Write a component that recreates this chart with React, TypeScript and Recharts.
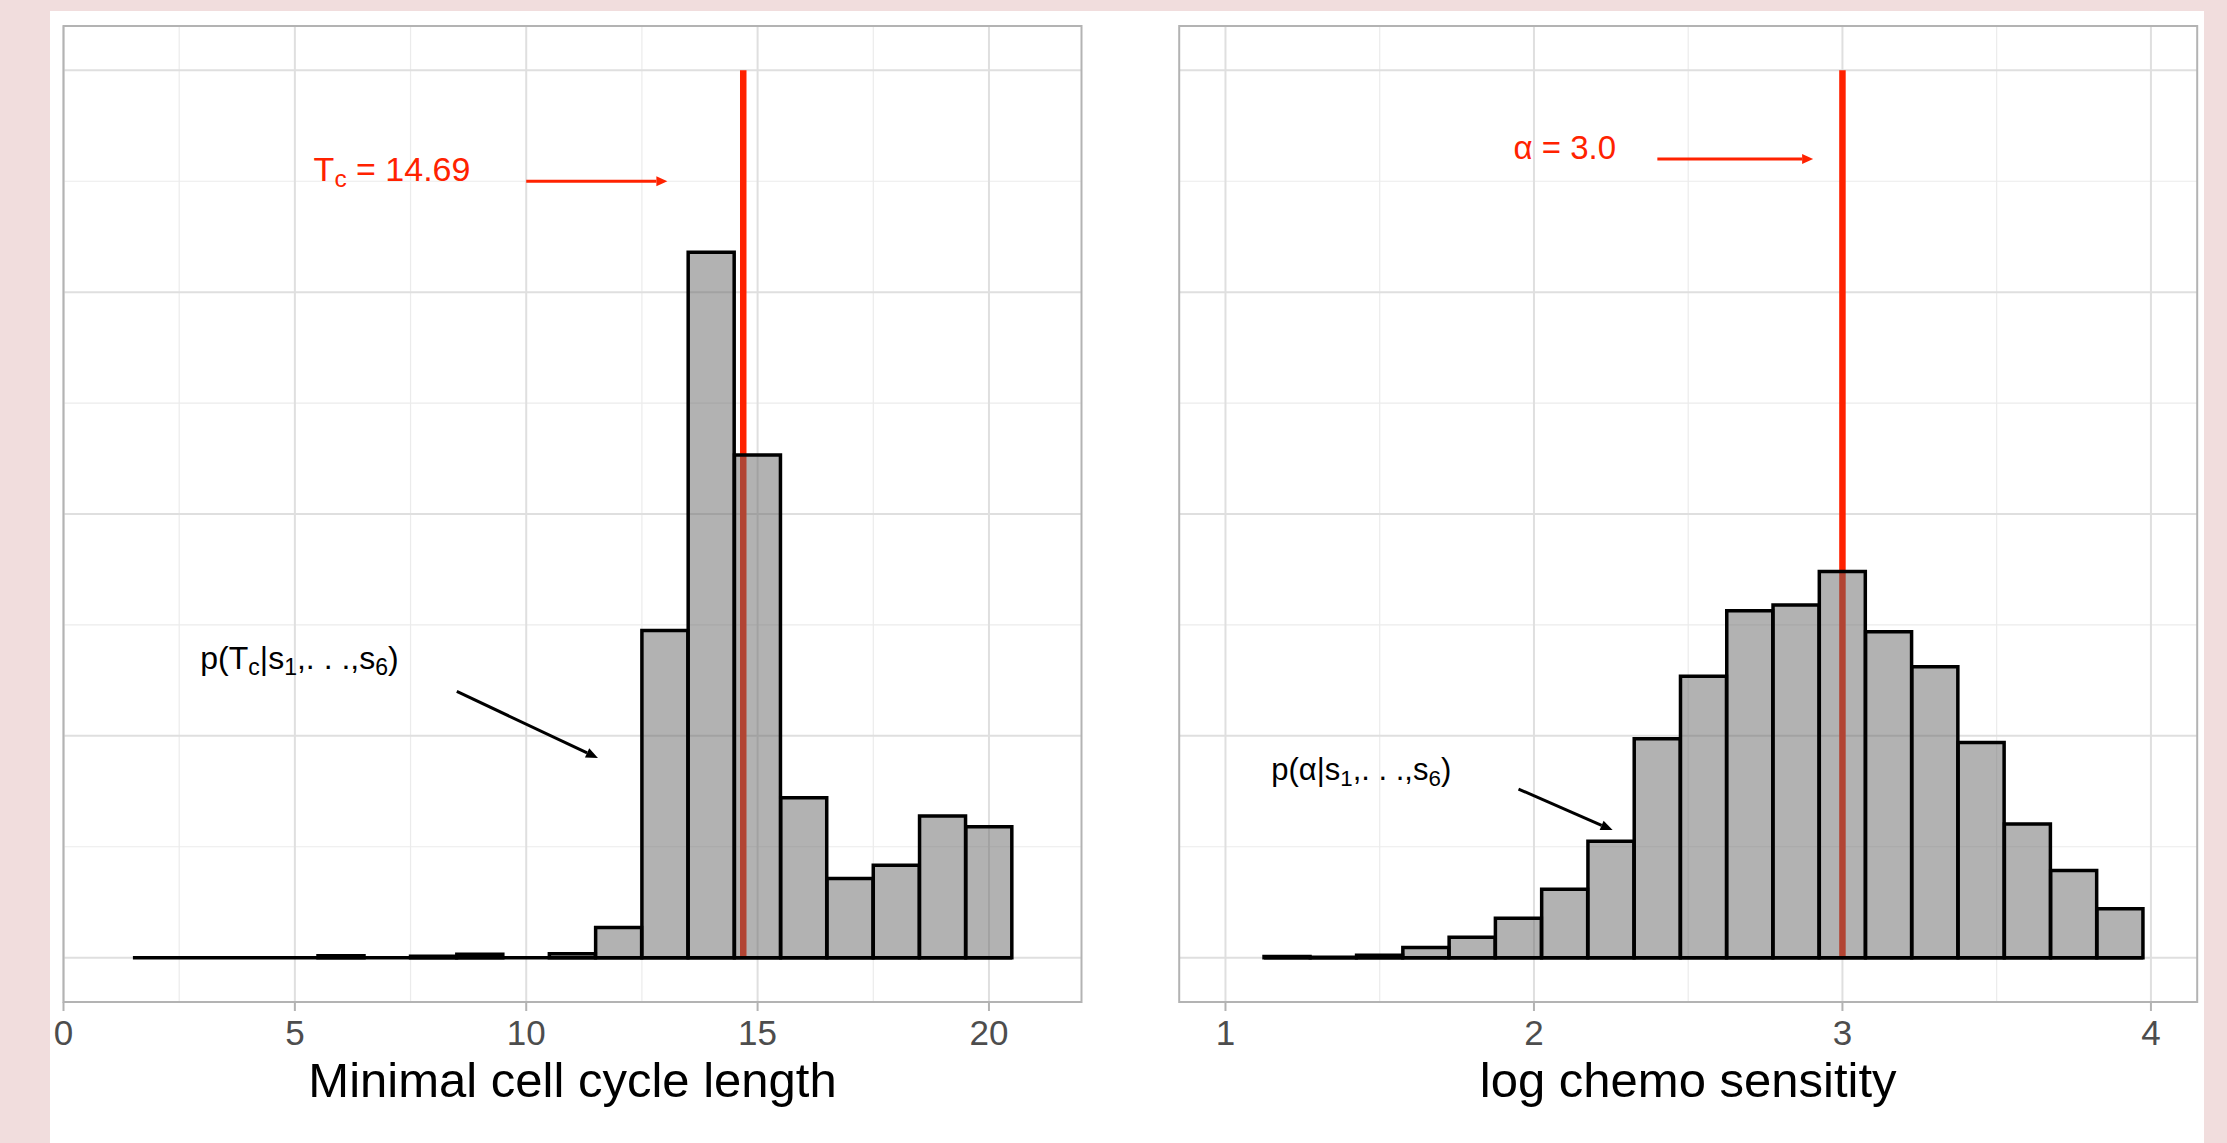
import React from 'react';
import { ComposedChart, Bar, XAxis, YAxis, ReferenceLine, ReferenceArea, ReferenceDot } from 'recharts';

// ---------------- data ----------------
const cycleBinCenters = [2, 3, 4, 5, 6, 7, 8, 9, 10, 11, 12, 13, 14, 15, 16, 17, 18, 19, 20];
const cycleDensity = [0, 0, 0, 0, 0.009, 0, 0.006, 0.015, 0, 0.018, 0.136, 1.475, 3.18, 2.266, 0.721, 0.357, 0.416, 0.639, 0.59];
const cycleBinWidth = 1;
const cycleTicks = [0, 5, 10, 15, 20];
const cycleMinorTicks = [2.5, 7.5, 12.5, 17.5];
const cycleDomain = [0, 22];
const cycleEstimate = 14.69;

const chemoBinCenters = [1.2, 1.35, 1.5, 1.65, 1.8, 1.95, 2.1, 2.25, 2.4, 2.55, 2.7, 2.85, 3.0, 3.15, 3.3, 3.45, 3.6, 3.75, 3.9];
const chemoDensity = [0.005, 0.002, 0.011, 0.046, 0.092, 0.177, 0.308, 0.525, 0.987, 1.269, 1.564, 1.59, 1.741, 1.469, 1.311, 0.97, 0.603, 0.393, 0.22];
const chemoBinWidth = 0.15;
const chemoTicks = [1, 2, 3, 4];
const chemoMinorTicks = [1.5, 2.5, 3.5];
const chemoDomain = [0.85, 4.15];
const chemoEstimate = 3.0;

const yDomain = [-0.2, 4.2];
const yTicks = [0, 1, 2, 3, 4];
const yMinorTicks = [0.5, 1.5, 2.5, 3.5];
const estimateLineTop = 4;

// text pieces (sub = subscript)
const cycleEstimateText = [{ t: 'T' }, { t: 'c', sub: true }, { t: ' = 14.69' }];
const cyclePosteriorText = [{ t: 'p(T' }, { t: 'c', sub: true }, { t: '|s' }, { t: '1', sub: true }, { t: ',. . .,s' }, { t: '6', sub: true }, { t: ')' }];
const chemoEstimateText = [{ t: 'α = 3.0' }];
const chemoPosteriorText = [{ t: 'p(α|s' }, { t: '1', sub: true }, { t: ',. . .,s' }, { t: '6', sub: true }, { t: ')' }];

// annotation anchor points (data coordinates)
const cycleNotes = {
  estLabel: { x: 7.1, y: 3.5 },
  estArrow: [{ x: 10, y: 3.5 }, { x: 13.05, y: 3.5 }],
  postLabel: { x: 5.1, y: 1.3 },
  postArrow: [{ x: 8.5, y: 1.2 }, { x: 11.55, y: 0.9 }],
};
const chemoNotes = {
  estLabel: { x: 2.1, y: 3.6 },
  estArrow: [{ x: 2.4, y: 3.6 }, { x: 2.905, y: 3.6 }],
  postLabel: { x: 1.44, y: 0.8 },
  postArrow: [{ x: 1.95, y: 0.76 }, { x: 2.255, y: 0.575 }],
};

// ---------------- styles ----------------
const RED = '#FF2200';
const GRID_MAJOR = '#DFDFDF';
const GRID_MINOR = '#EBEBEB';
const BORDER = '#B3B3B3';
const FONT = '"Liberation Sans", Arial, Helvetica, sans-serif';

const RichText = ({ cx, cy, parts, fontSize, fill }: any) => {
  const shift = fontSize * 0.18;
  let cur = 0;
  return (
    <text x={cx} y={cy} dy={fontSize * 0.36} textAnchor="middle" fontSize={fontSize} fill={fill} fontFamily={FONT}>
      {parts.map((p: any, i: number) => {
        const target = p.sub ? shift : 0;
        const d = target - cur;
        cur = target;
        return (
          <tspan key={i} dy={d} fontSize={p.sub ? fontSize * 0.72 : fontSize}>
            {p.t}
          </tspan>
        );
      })}
    </text>
  );
};

const arrowShape = (color: string, width: number, headLen: number, headHalf: number) => (p: any) => {
  const { x1, y1, x2, y2 } = p;
  const ang = Math.atan2(y2 - y1, x2 - x1);
  const bx = x2 - headLen * Math.cos(ang);
  const by = y2 - headLen * Math.sin(ang);
  const nx = -Math.sin(ang) * headHalf;
  const ny = Math.cos(ang) * headHalf;
  return (
    <g>
      <line x1={x1} y1={y1} x2={bx} y2={by} stroke={color} strokeWidth={width} />
      <polygon points={`${x2},${y2} ${bx + nx},${by + ny} ${bx - nx},${by - ny}`} fill={color} />
    </g>
  );
};

function HistPanel(props: any) {
  const {
    width, marginLeft, marginRight, centers, density, binWidth, xDomain, xTicks, xMinor,
    estimate, title, notes, estText, postText, estFont, postFont,
  } = props;
  const data = centers.map((x: number, i: number) => ({ x, density: density[i] }));
  const first = centers[0] - binWidth / 2;
  const last = centers[centers.length - 1] + binWidth / 2;
  return (
    <ComposedChart
      width={width}
      height={1143}
      data={data}
      margin={{ top: 26, right: marginRight, left: marginLeft, bottom: 41 }}
      barCategoryGap={0}
      barGap={0}
    >
      {xMinor.map((v: number) => (
        <ReferenceLine key={'xm' + v} x={v} stroke={GRID_MINOR} strokeWidth={1.2} zIndex={-100} />
      ))}
      {yMinorTicks.map((v: number) => (
        <ReferenceLine key={'ym' + v} y={v} stroke={GRID_MINOR} strokeWidth={1.2} zIndex={-100} />
      ))}
      {xTicks.map((v: number) => (
        <ReferenceLine key={'xM' + v} x={v} stroke={GRID_MAJOR} strokeWidth={2} zIndex={-100} />
      ))}
      {yTicks.map((v: number) => (
        <ReferenceLine key={'yM' + v} y={v} stroke={GRID_MAJOR} strokeWidth={2} zIndex={-100} />
      ))}
      <XAxis
        dataKey="x"
        type="number"
        domain={xDomain}
        ticks={xTicks}
        allowDataOverflow
        axisLine={false}
        tickLine={{ stroke: BORDER, strokeWidth: 2 }}
        tickSize={9}
        tickMargin={9}
        tick={{ fontSize: 35, fill: '#4D4D4D' }}
        height={100}
        label={{ value: title, position: 'insideBottom', offset: 5, fontSize: 49, fill: '#000000' }}
      />
      <YAxis
        type="number"
        domain={yDomain}
        ticks={yTicks}
        allowDataOverflow
        width={1}
        axisLine={false}
        tick={false}
        tickLine={{ stroke: BORDER, strokeWidth: 2 }}
        tickSize={9}
      />
      <ReferenceLine
        segment={[{ x: estimate, y: 0 }, { x: estimate, y: estimateLineTop }]}
        stroke={RED}
        strokeWidth={6.5}
        zIndex={250}
      />
      <Bar
        dataKey="density"
        fill="#666666"
        fillOpacity={0.5}
        stroke="#000000"
        strokeWidth={3.5}
        isAnimationActive={false}
        zIndex={300}
      />
      <ReferenceLine
        segment={[{ x: first, y: 0 }, { x: last, y: 0 }]}
        stroke="#000000"
        strokeWidth={3.5}
        zIndex={310}
      />
      <ReferenceArea
        x1={xDomain[0]}
        x2={xDomain[1]}
        y1={yDomain[0]}
        y2={yDomain[1]}
        fill="none"
        fillOpacity={0}
        stroke={BORDER}
        strokeWidth={2}
        ifOverflow="visible"
        zIndex={500}
      />
      <ReferenceLine
        segment={notes.estArrow}
        shape={arrowShape(RED, 3, 11, 5)}
        ifOverflow="visible"
        zIndex={2000}
      />
      <ReferenceLine
        segment={notes.postArrow}
        shape={arrowShape('#000000', 3, 12, 5)}
        ifOverflow="visible"
        zIndex={2000}
      />
      <ReferenceDot
        x={notes.estLabel.x}
        y={notes.estLabel.y}
        r={0}
        ifOverflow="visible"
        zIndex={2000}
        shape={(p: any) => <RichText cx={p.cx} cy={p.cy} parts={estText} fontSize={estFont} fill={RED} />}
      />
      <ReferenceDot
        x={notes.postLabel.x}
        y={notes.postLabel.y}
        r={0}
        ifOverflow="visible"
        zIndex={2000}
        shape={(p: any) => <RichText cx={p.cx} cy={p.cy} parts={postText} fontSize={postFont} fill="#000000" />}
      />
    </ComposedChart>
  );
}

export default function App() {
  return (
    <div
      style={{
        position: 'fixed',
        left: 0,
        top: 0,
        width: 2227,
        height: 1143,
        background: '#F1DDDD',
        fontFamily: FONT,
        overflow: 'hidden',
      }}
    >
      <div style={{ position: 'absolute', left: 50, top: 11, width: 2154, height: 1132, background: '#FFFFFF' }} />
      <div style={{ position: 'absolute', left: 0, top: 0 }}>
        <HistPanel
          width={1110}
          marginLeft={62.5}
          marginRight={28.5}
          centers={cycleBinCenters}
          density={cycleDensity}
          binWidth={cycleBinWidth}
          xDomain={cycleDomain}
          xTicks={cycleTicks}
          xMinor={cycleMinorTicks}
          estimate={cycleEstimate}
          title="Minimal cell cycle length"
          notes={cycleNotes}
          estText={cycleEstimateText}
          postText={cyclePosteriorText}
          estFont={34}
          postFont={32}
        />
      </div>
      <div style={{ position: 'absolute', left: 1110, top: 0 }}>
        <HistPanel
          width={1117}
          marginLeft={68.2}
          marginRight={29.8}
          centers={chemoBinCenters}
          density={chemoDensity}
          binWidth={chemoBinWidth}
          xDomain={chemoDomain}
          xTicks={chemoTicks}
          xMinor={chemoMinorTicks}
          estimate={chemoEstimate}
          title="log chemo sensitity"
          notes={chemoNotes}
          estText={chemoEstimateText}
          postText={chemoPosteriorText}
          estFont={33}
          postFont={31}
        />
      </div>
    </div>
  );
}
